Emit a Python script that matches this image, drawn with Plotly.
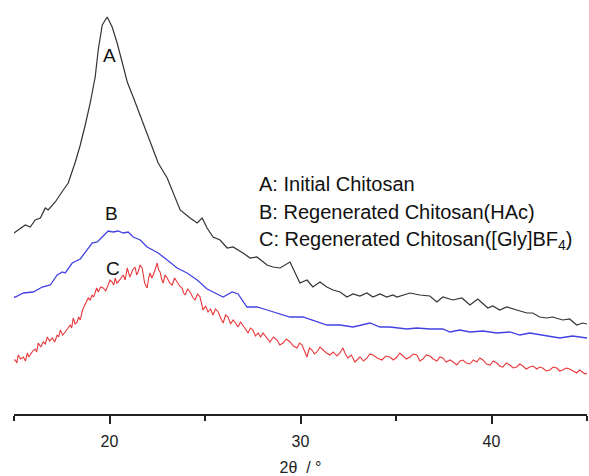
import plotly.graph_objects as go

# Curve A: Initial Chitosan
a_2theta = [15.0, 15.07, 15.59, 15.85, 16.11, 16.38, 16.64, 16.79, 17.16, 17.58, 17.84, 18.21, 18.47, 18.73,
            18.99, 19.25, 19.41, 19.62, 19.88, 20.14, 20.40, 20.66, 20.93, 21.24, 21.50, 21.76, 22.02,
            22.29, 22.55, 23.02, 23.33, 23.70, 24.22, 24.59, 24.85, 25.11, 25.42, 25.79, 26.16, 26.47,
            26.99, 27.36, 27.72, 28.25, 28.56, 28.93, 29.45, 29.97, 30.34, 30.65, 31.02, 31.38, 31.70,
            32.07, 32.43, 32.75, 33.11, 33.48, 33.79, 34.16, 34.52, 34.84, 35.05, 35.73, 36.25, 36.77,
            37.14, 37.45, 37.98, 38.45, 38.87, 39.28, 39.81, 40.07, 40.43, 40.80, 41.32, 41.85, 42.16,
            42.52, 42.89, 43.20, 43.73, 44.09, 44.46, 44.77, 45.0]
a_int = [181, 182, 189, 187, 194, 196, 206, 204, 212, 224, 231, 252, 269, 289,
         311, 337, 364, 389, 397, 387, 371, 352, 332, 317, 304, 291, 277,
         264, 251, 236, 222, 204, 196, 191, 196, 186, 177, 174, 166, 167,
         161, 156, 157, 149, 147, 146, 152, 131, 134, 127, 132, 127, 124,
         122, 117, 120, 118, 121, 117, 120, 117, 119, 117, 121, 119, 118,
         112, 117, 114, 116, 109, 115, 106, 108, 104, 107, 104, 101, 101,
         97, 96, 97, 94, 95, 89, 91, 90]

# Curve B: Regenerated Chitosan (HAc)
b_2theta = [15.0, 15.07, 15.49, 16.01, 16.48, 16.90, 17.26, 17.53, 17.68, 18.05, 18.47, 18.83, 19.09,
            19.36, 19.62, 19.93, 20.19, 20.45, 20.72, 20.98, 21.24, 21.61, 21.97, 22.29, 22.55, 23.02,
            23.54, 24.06, 24.59, 25.11, 25.42, 25.95, 26.42, 26.73, 27.20, 27.72, 28.25, 28.93, 29.45,
            30.13, 30.86, 31.38, 32.07, 32.75, 33.64, 34.16, 34.68, 35.57, 36.09, 36.77, 37.45, 37.82,
            38.34, 38.87, 39.55, 40.28, 40.96, 41.48, 42.00, 42.68, 43.57, 44.25, 45.0]
b_int = [117, 117, 121, 122, 127, 129, 139, 142, 141, 151, 155, 164, 171,
         172, 177, 183, 182, 183, 181, 182, 177, 174, 167, 164, 161, 154,
         146, 141, 134, 125, 122, 117, 122, 120, 107, 107, 104, 100, 97,
         97, 92, 89, 89, 87, 91, 87, 87, 85, 86, 85, 85, 82,
         84, 82, 83, 81, 82, 79, 81, 79, 76, 78, 76]

# Curve C: Regenerated Chitosan ([Gly]BF4)
c_2theta = [15.0, 15.07, 15.15, 15.22, 15.35, 15.49, 15.60, 15.70, 15.78, 15.85, 15.98, 16.11, 16.19, 16.27,
            16.40, 16.53, 16.64, 16.74, 16.87, 17.00, 17.13, 17.26, 17.34, 17.42, 17.55, 17.68, 17.81, 17.94,
            18.02, 18.10, 18.20, 18.31, 18.39, 18.47, 18.55, 18.63, 18.76, 18.89, 18.99, 19.09, 19.17, 19.25,
            19.33, 19.41, 19.54, 19.67, 19.80, 19.93, 20.03, 20.14, 20.22, 20.30, 20.38, 20.45, 20.58, 20.72,
            20.82, 20.93, 21.00, 21.08, 21.21, 21.34, 21.42, 21.50, 21.60, 21.71, 21.84, 21.97, 22.05, 22.13,
            22.21, 22.29, 22.40, 22.50, 22.57, 22.65, 22.73, 22.81, 22.91, 23.02, 23.15, 23.28, 23.41, 23.54,
            23.67, 23.80, 23.88, 23.96, 24.09, 24.22, 24.35, 24.48, 24.61, 24.74, 24.82, 24.90, 25.03, 25.16,
            25.29, 25.42, 25.55, 25.69, 25.82, 25.95, 26.08, 26.21, 26.34, 26.47, 26.60, 26.73, 26.86, 26.99,
            27.12, 27.25, 27.38, 27.51, 27.64, 27.78, 27.91, 28.04, 28.22, 28.40, 28.58, 28.77, 28.92, 29.08,
            29.26, 29.45, 29.63, 29.82, 29.95, 30.08, 30.21, 30.34, 30.47, 30.60, 30.73, 30.86, 31.02, 31.18,
            31.36, 31.54, 31.72, 31.91, 32.06, 32.22, 32.35, 32.48, 32.66, 32.85, 32.98, 33.11, 33.30, 33.48,
            33.63, 33.79, 34.02, 34.26, 34.47, 34.68, 34.86, 35.05, 35.20, 35.36, 35.54, 35.73, 35.91, 36.09,
            36.25, 36.41, 36.59, 36.77, 36.95, 37.14, 37.30, 37.45, 37.63, 37.82, 38.00, 38.19, 38.35, 38.50,
            38.68, 38.87, 39.05, 39.23, 39.39, 39.55, 39.74, 39.92, 40.10, 40.28, 40.43, 40.59, 40.77, 40.96,
            41.14, 41.32, 41.48, 41.64, 41.82, 42.00, 42.18, 42.37, 42.52, 42.68, 42.86, 43.05, 43.23, 43.42,
            43.57, 43.73, 43.91, 44.09, 44.27, 44.46, 44.61, 44.77, 44.90, 45.0]
c_int = [54, 54, 51, 59, 55, 57, 53, 61, 57, 59, 63, 65, 62, 71,
         67, 72, 70, 77, 73, 76, 72, 79, 77, 84, 79, 82, 85, 89,
         86, 96, 90, 92, 97, 94, 101, 106, 111, 116, 114, 119, 117, 121,
         126, 122, 127, 126, 123, 129, 134, 132, 129, 136, 131, 132, 136, 139,
         134, 146, 141, 137, 144, 147, 139, 142, 149, 146, 131, 126, 136, 141,
         136, 139, 145, 151, 144, 142, 135, 131, 139, 136, 131, 129, 136, 132,
         128, 126, 121, 119, 125, 122, 117, 114, 120, 117, 110, 104, 108, 102,
         105, 99, 105, 102, 96, 91, 99, 97, 90, 94, 91, 87, 92, 89,
         85, 81, 86, 84, 78, 81, 77, 81, 76, 72, 77, 74, 69, 71,
         75, 72, 68, 66, 71, 69, 63, 57, 66, 64, 60, 62, 67, 64,
         61, 59, 62, 58, 61, 66, 60, 56, 59, 52, 55, 57, 53, 56,
         60, 59, 56, 54, 58, 57, 54, 57, 61, 58, 55, 57, 60, 59,
         53, 55, 59, 58, 55, 53, 57, 56, 52, 54, 52, 49, 53, 54,
         51, 50, 54, 52, 56, 54, 50, 49, 53, 51, 48, 47, 51, 49,
         46, 47, 50, 48, 45, 47, 48, 45, 47, 46, 43, 44, 47, 46,
         43, 44, 46, 45, 43, 41, 44, 42, 40, 41]

major_tick_step = 10
minor_tick_step = 5
legend_lines = ["A: Initial Chitosan", "B: Regenerated Chitosan(HAc)",
                "C: Regenerated Chitosan([Gly]BF<sub>4</sub>)"]
curve_labels = ["A", "B", "C"]

FONT = "Liberation Sans, Arial, sans-serif"
AX = "#222222"

fig = go.Figure()
fig.add_trace(go.Scatter(x=a_2theta, y=a_int, mode="lines", line=dict(color="#333333", width=1.2), showlegend=False))
fig.add_trace(go.Scatter(x=b_2theta, y=b_int, mode="lines", line=dict(color="#4242e2", width=1.3), showlegend=False))
fig.add_trace(go.Scatter(x=c_2theta, y=c_int, mode="lines", line=dict(color="#e8383c", width=1.1), showlegend=False))

# curve labels
label_pos = [(19.98, 359), (20.08, 201), (20.18, 146)]
for lab, (lx, ly) in zip(curve_labels, label_pos):
    fig.add_annotation(x=lx, y=ly, text=lab, showarrow=False, xanchor="center", yanchor="middle",
                       font=dict(family=FONT, size=19, color="#111111"))

# legend text block
leg_y = [230, 202, 174]
for txt, ly in zip(legend_lines, leg_y):
    fig.add_annotation(x=27.72, y=ly, text=txt, showarrow=False, xanchor="left", yanchor="middle",
                       font=dict(family=FONT, size=20, color="#111111"))

fig.update_layout(
    width=589, height=476,
    margin=dict(l=14, r=2, t=0, b=62),
    paper_bgcolor="white", plot_bgcolor="white",
    font=dict(family=FONT, color=AX),
    xaxis=dict(range=[15, 45], tickmode="linear", tick0=0, dtick=major_tick_step, ticks="outside", ticklen=8,
               tickwidth=2, tickcolor=AX, showline=True, linecolor=AX, linewidth=2,
               showgrid=False, zeroline=False, tickfont=dict(family=FONT, size=16, color=AX),
               ticklabelstandoff=4,
               minor=dict(tickmode="linear", tick0=0, dtick=minor_tick_step, ticks="outside", ticklen=5,
                          tickwidth=2, tickcolor=AX, showgrid=False),
               title=dict(text="2θ  / °", font=dict(family=FONT, size=16, color=AX), standoff=14)),
    yaxis=dict(range=[0, 414], visible=False, showgrid=False, zeroline=False),
)

fig.write_html("out.html")
